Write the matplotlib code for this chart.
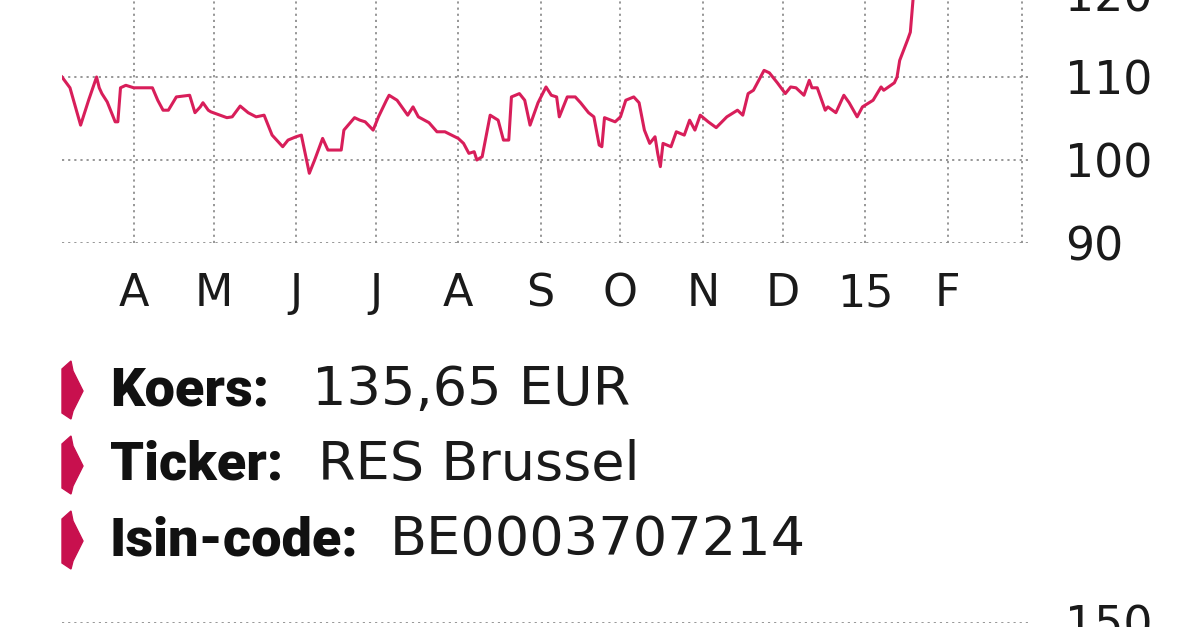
import matplotlib
matplotlib.use("Agg")
import matplotlib.pyplot as plt
from matplotlib.patches import Polygon
import pandas as pd

# koers RES (Brussel), days counted from 5 March 2014
start_date = "2014-03-05"
day_offset = [0, 3, 7, 10, 13, 14, 15, 17, 20, 21, 22, 24, 27, 34, 36, 38, 40, 43, 48, 50,
              52, 53, 55, 56, 62, 64, 67, 70, 73, 76, 79, 83, 85, 88, 90, 93, 95, 98, 100, 105,
              106, 110, 112, 114, 117, 119, 122, 123, 126, 130, 132, 134, 138, 141, 144, 149, 151, 153, 155, 156,
              158, 161, 164, 166, 168, 169, 172, 174, 176, 179, 182, 184, 186, 187, 190, 193, 195, 198, 200, 202,
              203, 204, 208, 210, 212, 215, 217, 219, 221, 223, 224, 225, 226, 229, 231, 234, 236, 238, 240, 243,
              246, 250, 254, 256, 258, 260, 264, 266, 269, 272, 274, 276, 279, 281, 282, 284, 287, 288, 291, 294,
              296, 299, 301, 305, 308, 309, 313, 314, 315, 318, 319, 320, 322, 325]
koers = [110.0, 108.7, 104.2, 107.2, 110.0, 108.7, 108.0, 107.0, 104.6, 104.6, 108.7, 109.0, 108.7, 108.7, 107.2, 106.0, 106.0, 107.6, 107.8, 105.7,
         106.4, 106.9, 106.0, 105.8, 105.1, 105.2, 106.5, 105.7, 105.2, 105.4, 103.0, 101.6, 102.4, 102.8, 103.0, 98.4, 100.0, 102.6, 101.2, 101.2,
         103.6, 105.1, 104.8, 104.6, 103.6, 105.2, 107.2, 107.8, 107.2, 105.4, 106.4, 105.2, 104.5, 103.4, 103.4, 102.6, 102.0, 100.8, 101.0, 100.0,
         100.4, 105.4, 104.8, 102.4, 102.4, 107.6, 108.0, 107.2, 104.2, 106.9, 108.8, 107.8, 107.6, 105.2, 107.6, 107.6, 106.9, 105.7, 105.2, 101.8,
         101.6, 105.1, 104.6, 105.2, 107.2, 107.6, 106.9, 103.6, 102.0, 102.8, 100.8, 99.2, 102.0, 101.6, 103.4, 103.0, 104.8, 103.6, 105.4, 104.6,
         103.9, 105.2, 106.0, 105.4, 108.0, 108.4, 110.8, 110.5, 109.3, 108.0, 108.8, 108.7, 107.8, 109.6, 108.7, 108.7, 106.0, 106.4, 105.7, 107.8,
         106.9, 105.2, 106.4, 107.2, 108.8, 108.4, 109.3, 110.0, 112.0, 114.5, 115.4, 119.3, 125.0, 135.65]

month_starts = pd.date_range("2014-04-01", "2015-03-01", freq="MS")
month_labels = ["A", "M", "J", "J", "A", "S", "O", "N", "D", "15", "F", ""]
y_ticks = [90, 100, 110, 120]
y_ticks_lower = [150]

info_keys = ["Koers:", "Ticker:", "Isin-code:"]
info_values = ["135,65 EUR", "RES Brussel", "BE0003707214"]

LINE = "#d81e5a"
BULLET = "#c8104e"
GRID = "#8f8f8f"
TXT = "#1a1a1a"

W, H = 1200, 627
PX_PER_UNIT = 8.3   # vertical scale of the top chart
fig = plt.figure(figsize=(12, 6.27), dpi=100)
fig.patch.set_facecolor("white")

def fx(px):
    return px / W

def fy(py):
    return 1 - py / H

dates = pd.Timestamp(start_date) + pd.to_timedelta(day_offset, unit="D")
x0, x1 = pd.Timestamp("2014-03-05"), pd.Timestamp("2015-03-04")
ymin, ymax = 90, 125

# top chart: the frame runs past the top of the picture (crop)
ax = fig.add_axes([fx(62), fy(243), fx(1030) - fx(62), PX_PER_UNIT * (ymax - ymin) / H])
ax.plot(dates, koers, color=LINE, lw=2.2, solid_joinstyle="round", zorder=3)
ax.set_xlim(x0, x1)
ax.set_ylim(ymin, ymax)
ax.set_xticks(month_starts)
ax.set_xticklabels(month_labels)
ax.set_yticks(y_ticks)
ax.yaxis.tick_right()
ax.grid(True, color=GRID, lw=1.3, linestyle=(0, (1.2, 2.2)))
for s in ax.spines.values():
    s.set_visible(False)
ax.tick_params(axis="x", length=0, pad=21, labelsize=32, labelcolor=TXT)
ax.tick_params(axis="y", length=0, pad=25, labelsize=33, labelcolor=TXT)
for lab in ax.get_yticklabels():
    lab.set_horizontalalignment("left")

# next chart, only its top gridline shows
ax2 = fig.add_axes([fx(62), fy(622) - 0.3, fx(1030) - fx(62), 0.3])
ax2.set_xlim(x0, x1)
ax2.set_ylim(100, 150)
ax2.set_xticks([])
ax2.set_yticks(y_ticks_lower)
ax2.yaxis.tick_right()
ax2.grid(True, axis="y", color=GRID, lw=1.3, linestyle=(0, (1.2, 2.2)))
for s in ax2.spines.values():
    s.set_visible(False)
ax2.tick_params(axis="y", length=0, pad=25, labelsize=33, labelcolor=TXT)

# info lines with arrow bullets
baselines = [405, 480, 555]
value_x = [312, 318, 390]
shape = [(0, -22), (9, -30), (11, -20), (21, 0), (11, 20), (9, 28), (0, 22)]
for key, val, base, vx in zip(info_keys, info_values, baselines, value_x):
    cy = base - 14
    pts = [(fx(62 + dx), fy(cy + dy)) for dx, dy in shape]
    fig.patches.append(Polygon(pts, closed=True, color=BULLET, transform=fig.transFigure, figure=fig))
    fig.text(fx(110), fy(base), key, fontsize=39, family="Roboto", weight="black",
             color="#111111", va="baseline", ha="left")
    fig.text(fx(vx), fy(base), val, fontsize=39, family="DejaVu Sans",
             color=TXT, va="baseline", ha="left")

fig.savefig("out.png", dpi=100, facecolor="white")
